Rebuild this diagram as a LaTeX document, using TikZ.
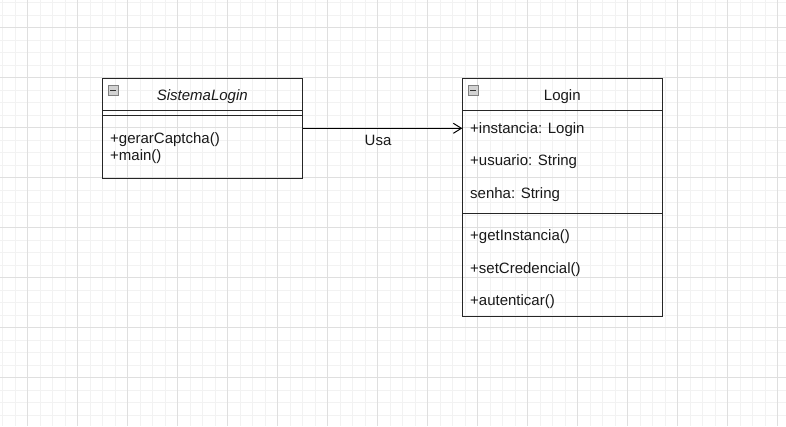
\documentclass[tikz,border=0pt]{standalone}
\usepackage{fontspec}
\setmainfont{Liberation Sans}
\usetikzlibrary{arrows.meta}

\begin{document}
\begin{tikzpicture}[x=1pt,y=-1pt,
  every node/.style={font=\fontsize{15}{18}\selectfont, text=black!90},
  classbox/.style={draw=black!85, line width=1pt, anchor=north west, minimum width=200pt, inner sep=0pt},
  member/.style={anchor=west, inner sep=0pt},
  minbox/.style={draw=gray, fill=gray!35, minimum size=10pt, inner sep=0pt, anchor=north west},
  sep/.style={draw=black!85, line width=1pt},
  usa/.style={draw=black, line width=1pt, -{Straight Barb[length=8pt,width=10pt]}}]
\fill[white] (0,0) rectangle (786,426);
\useasboundingbox (0,0) rectangle (786,426);
% grid
\foreach \i in {0,...,62} \draw[gray!10] (2.3+12.5*\i,0) -- (2.3+12.5*\i,426);
\foreach \i in {0,...,33} \draw[gray!10] (0,2.3+12.5*\i) -- (786,2.3+12.5*\i);
\foreach \i in {0,...,15} \draw[gray!25] (27.3+50*\i,0) -- (27.3+50*\i,426);
\foreach \i in {0,...,8} \draw[gray!25] (0,27.3+50*\i) -- (786,27.3+50*\i);

% SistemaLogin
\node[classbox, minimum height=99.4pt] (sis) at (102.3,78.3) {};
\draw[sep] ([yshift=-32.4pt]sis.north west) -- ([yshift=-32.4pt]sis.north east);
\draw[sep] ([yshift=-37pt]sis.north west) -- ([yshift=-37pt]sis.north east);
\node[minbox] (sis-min) at (108,85) {};
\draw[black!80, line width=1.2pt] ([xshift=2pt]sis-min.west) -- ([xshift=-2pt]sis-min.east);
\node[font=\fontsize{15}{18}\selectfont\itshape] (sis-name) at (202.3,96.5) {SistemaLogin};
\node[member] (gerar) at (110,139.5) {+gerarCaptcha()};
\node[member] (main) at (110,156.2) {+main()};

% Login
\node[classbox, minimum height=237.7pt] (lgn) at (462.3,78.3) {};
\draw[sep] ([yshift=-32.4pt]lgn.north west) -- ([yshift=-32.4pt]lgn.north east);
\draw[sep] ([yshift=-135pt]lgn.north west) -- ([yshift=-135pt]lgn.north east);
\node[minbox] (lgn-min) at (468,85) {};
\draw[black!80, line width=1.2pt] ([xshift=2pt]lgn-min.west) -- ([xshift=-2pt]lgn-min.east);
\node (lgn-name) at (562.3,96.5) {Login};
\node[member] (inst) at (470,129.5) {+instancia: Login};
\node[member] (usr) at (470,161.2) {+usuario: String};
\node[member] (senha) at (470,194.5) {senha: String};
\node[member] (getinst) at (470,236.2) {+getInstancia()};
\node[member] (setcred) at (470,269.5) {+setCredencial()};
\node[member] (aut) at (470,301.2) {+autenticar()};

\draw[usa] ([yshift=1.2pt]sis.east |- inst) -- node[pos=0.47, below=3pt] (usa-lbl) {Usa} ([yshift=1.2pt]lgn.west |- inst);
\end{tikzpicture}
\end{document}
